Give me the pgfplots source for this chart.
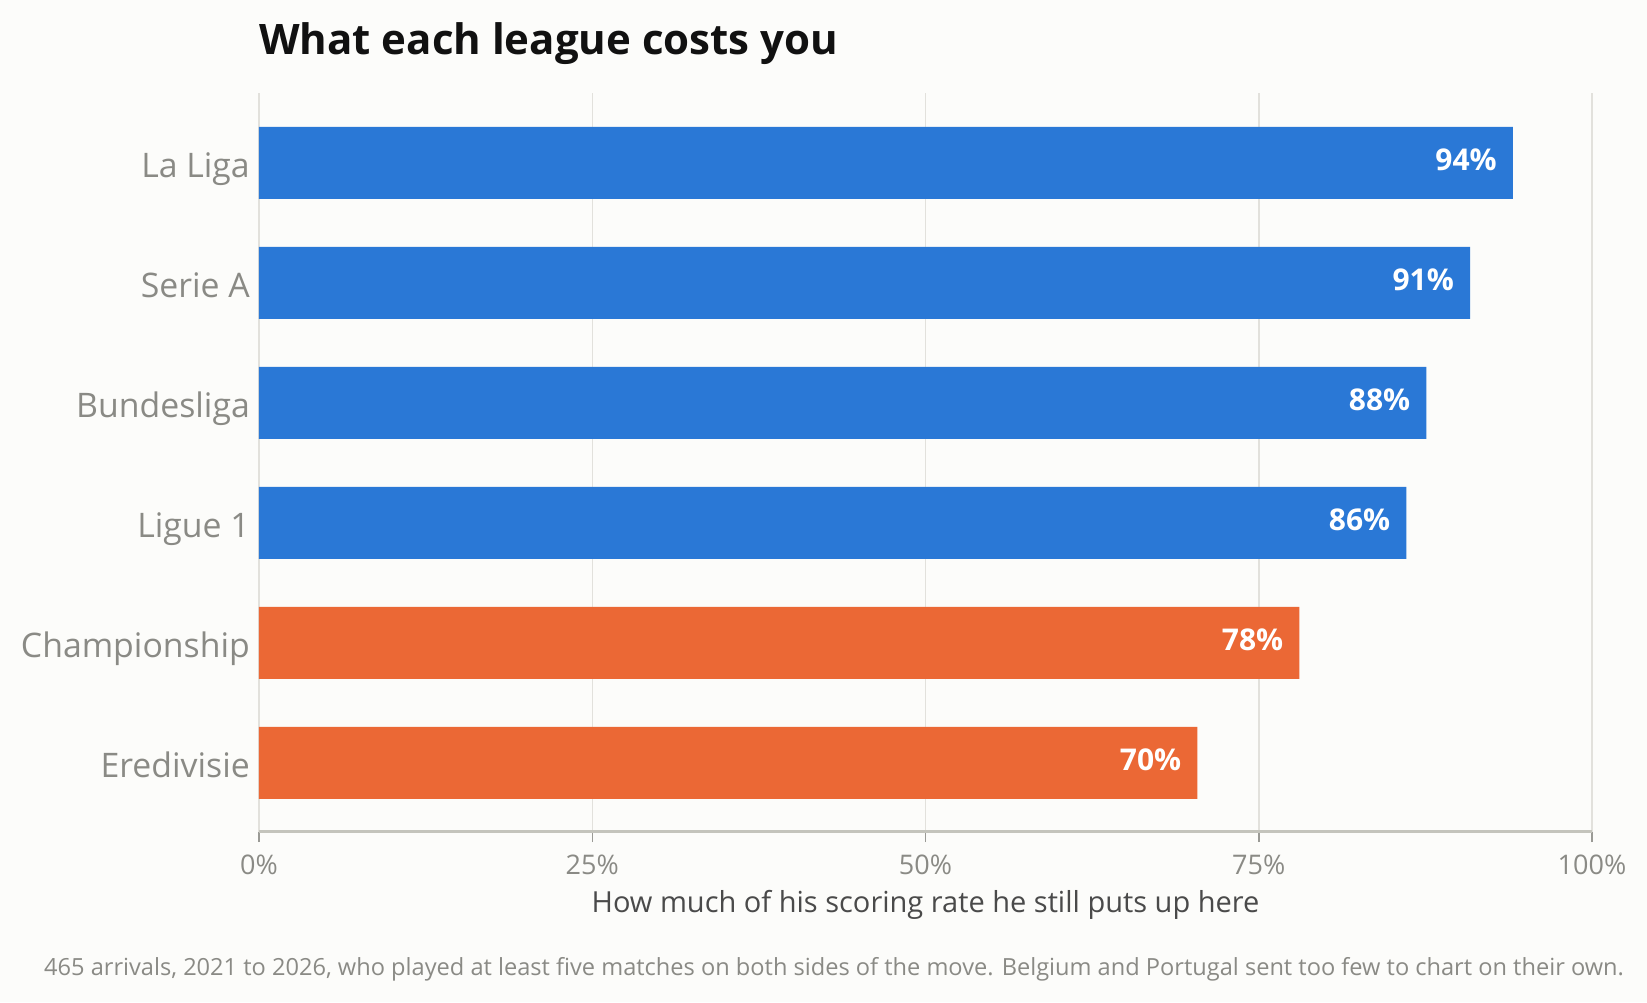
\documentclass[border=0pt]{standalone}
\usepackage{pgfplots}
\pgfplotsset{compat=1.18}
\usepackage{fontspec}
\setmainfont{Open Sans}
\definecolor{bg}{HTML}{FCFCFA}
\definecolor{barblue}{HTML}{2A78D6}
\definecolor{barorange}{HTML}{EB6835}
\definecolor{axisgray}{HTML}{C4C4BC}
\definecolor{tickgray}{HTML}{9A9A95}
\definecolor{gridgray}{HTML}{E2E1DC}
\definecolor{labgray}{HTML}{8A8A85}
\definecolor{xlabcol}{HTML}{4A4A4A}
\definecolor{titlecol}{HTML}{111111}
\begin{document}
\begin{tikzpicture}[x=1pt,y=1pt]
\fill[bg] (0,0) rectangle (1647,1002);
\useasboundingbox (0,0) rectangle (1647,1002);
\begin{axis}[
  at={(259pt,170pt)}, anchor=south west,
  scale only axis, width=1333pt, height=738.7pt,
  xmin=0, xmax=100, ymin=-0.575, ymax=5.58,
  xbar, bar width=72pt, bar shift=0pt,
  axis lines*=left,
  x axis line style={draw=axisgray, line width=3pt},
  y axis line style={draw=none},
  xtick={0,25,50,75,100},
  xticklabels={0\%,25\%,50\%,75\%,100\%},
  ytick={0,1,2,3,4,5},
  yticklabels={Eredivisie,Championship,Ligue 1,Bundesliga,Serie A,La Liga},
  tick align=outside, major tick length=10pt,
  xtick style={draw=tickgray, line width=1.5pt},
  ytick style={draw=none},
  xmajorgrids, grid style={draw=gridgray, line width=1.5pt},
  xticklabel style={font=\fontsize{27}{30}\selectfont, text=labgray, anchor=base, inner sep=0pt, yshift=-32pt},
  yticklabel style={font=\fontsize{33.8}{40}\selectfont, text=labgray, anchor=base east, inner sep=0pt, xshift=1pt, yshift=-15pt},
  nodes near coords, point meta=explicit symbolic,
  every node near coord/.append style={anchor=base east, xshift=-16pt, yshift=-8pt, text=white, font=\bfseries\fontsize{30}{36}\selectfont, inner sep=0pt},
  clip=false,
]
\addplot[fill=barblue, draw=none] coordinates {(94.07,5)[94\%] (90.85,4)[91\%] (87.58,3)[88\%] (86.08,2)[86\%]};
\addplot[fill=barorange, draw=none] coordinates {(78.05,1)[78\%] (70.4,0)[70\%]};
\end{axis}
\node[anchor=base west, inner sep=0pt, font=\bfseries\fontsize{42}{50}\selectfont, text=titlecol] at (259,947) {What each league costs you};
\node[anchor=base, inner sep=0pt, font=\fontsize{29}{32}\selectfont, text=xlabcol] at (925.5,89.3) {How much of his scoring rate he still puts up here};
\node[anchor=base west, inner sep=0pt, font=\fontsize{23.6}{26}\selectfont, text=labgray] at (44,27) {465 arrivals, 2021 to 2026, who played at least five matches on both sides of the move. Belgium and Portugal sent too few to chart on their own.};
\end{tikzpicture}
\end{document}
